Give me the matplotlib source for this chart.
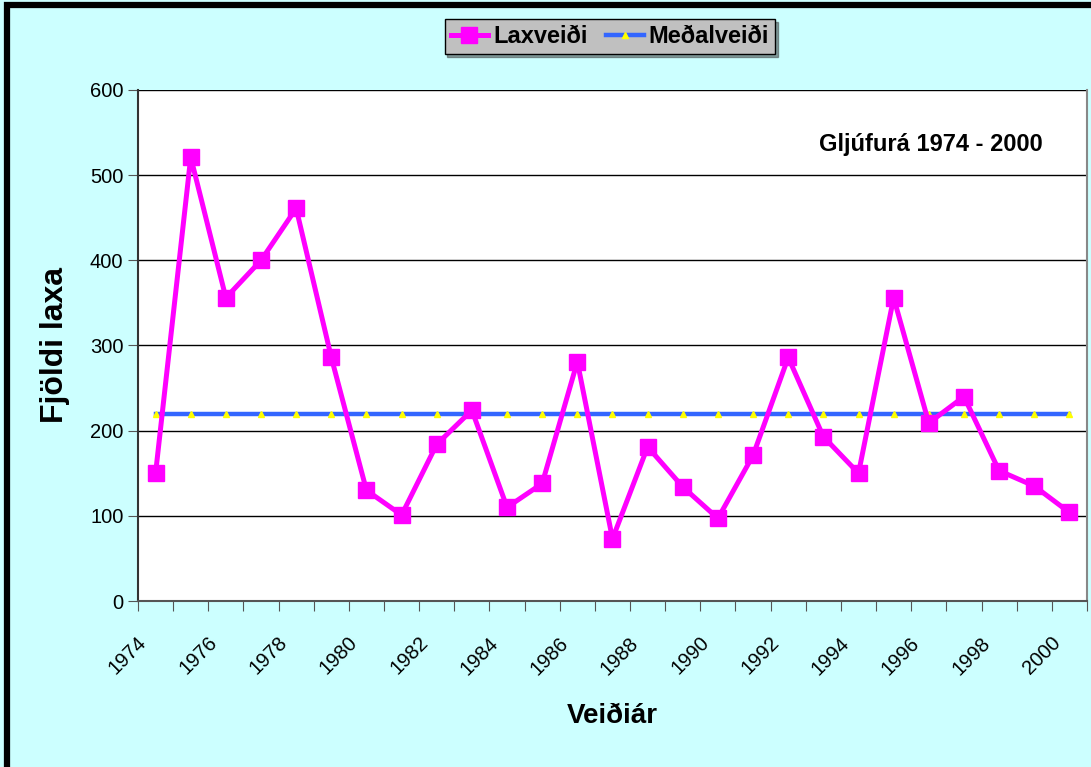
import numpy as np
import matplotlib.pyplot as plt
import matplotlib.transforms as mtransforms
from matplotlib.patches import Rectangle

plt.rcParams['font.family'] = ['Liberation Sans', 'DejaVu Sans']

# data
years = list(range(1974, 2001))
laxveidi = [150, 521, 356, 400, 461, 286, 130, 101, 184, 224, 110, 138, 281, 73,
            181, 134, 97, 171, 286, 193, 150, 356, 209, 240, 153, 135, 104]
medalveidi = 220  # average line
year_labels = [str(y) for y in years[::2]]

fig = plt.figure(figsize=(10.91, 7.67), dpi=100)
fig.patch.set_facecolor('#CCFFFF')
# outer frame (thick black top/left like the screenshot)
fig.patches.append(Rectangle((0.0065, -0.01), 1.0, 1.004, transform=fig.transFigure,
                             fill=False, edgecolor='black', linewidth=4.5))

ax = fig.add_axes([0.1265, 0.2164, 0.8698, 0.6663])
ax.set_facecolor('white')

x = np.arange(len(years))
ax.plot(x, [medalveidi] * len(years), color='#3366FF', linewidth=3.2,
        marker='^', markersize=4.5, markerfacecolor='#FFFF00', markeredgecolor='#FFFF00',
        label='Meðalveiði', zorder=3)
ax.plot(x, laxveidi, color='#FF00FF', linewidth=3.6, marker='s', markersize=11,
        label='Laxveiði', zorder=4)

ax.set_xlim(-0.5, len(years) - 0.5)
ax.set_ylim(0, 600)
ax.set_yticks(range(0, 601, 100))
ax.yaxis.grid(True, color='black', linewidth=1)
ax.set_axisbelow(True)

# tick marks between categories, labels every other year
ax.set_xticks(np.arange(-0.5, len(years), 1.0))
ax.set_xticklabels([])
ax.set_xticks(x[::2], minor=True)
ax.set_xticklabels(year_labels, minor=True, rotation=45, ha='right', va='center',
                   rotation_mode='anchor', fontsize=14.5)
ax.tick_params(axis='x', which='major', length=7, direction='out', color='#555555')
ax.tick_params(axis='x', which='minor', length=0, pad=28)
ax.tick_params(axis='y', length=7, labelsize=14.5, color='#555555')
offset = mtransforms.ScaledTranslation(-12 / 100, 0, fig.dpi_scale_trans)
for lab in ax.xaxis.get_minorticklabels():
    lab.set_transform(lab.get_transform() + offset)

ax.spines['top'].set_visible(False)
ax.spines['left'].set_color('#333333')
ax.spines['bottom'].set_color('#555555')
ax.spines['right'].set_color('#888888')
for side in ['left', 'bottom', 'right']:
    ax.spines[side].set_linewidth(1.5)

ax.set_xlabel('Veiðiár', fontsize=20, fontweight='bold', labelpad=18)
ax.set_ylabel('Fjöldi laxa', fontsize=23, fontweight='bold', labelpad=14)

ax.text(0.835, 0.893, 'Gljúfurá 1974 - 2000', transform=ax.transAxes, fontsize=17,
        fontweight='bold', ha='center', va='center')

handles, labels = ax.get_legend_handles_labels()
leg = fig.legend(handles[::-1], labels[::-1], loc='center', bbox_to_anchor=(0.559, 0.952),
                 ncol=2, frameon=True, fancybox=False, shadow=True,
                 prop={'weight': 'bold', 'size': 17}, handlelength=1.6,
                 handletextpad=0.2, columnspacing=0.8, borderpad=0.25)
leg.get_frame().set_facecolor('#C0C0C0')
leg.get_frame().set_edgecolor('black')
leg.get_frame().set_alpha(1)

fig.savefig('out.png', dpi=100, facecolor=fig.get_facecolor())
